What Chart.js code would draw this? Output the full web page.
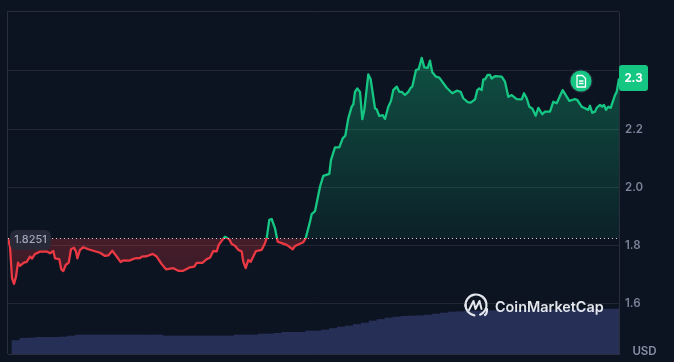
<!DOCTYPE html>
<html><head><meta charset="utf-8">
<style>html,body{margin:0;padding:0;background:#0c1321}#w{position:relative;width:674px;height:362px}</style>
<script src="https://cdn.jsdelivr.net/npm/chart.js@4"></script>
</head><body><div id="w"><canvas id="c" width="674" height="362"></canvas></div>
<script>
const baseline = 1.8251;
const yTicks = [1.6, 1.8, 2.0, 2.2, 2.4];
const lastLabel = '2.3';
const times = [0,2,4,6,8,10,12,14,16,18.7,22,24,27,32,38.7,42,45.3,47,51.3,53.3,55.3,57.7,60.7,63,66,68,69.3,72,75.3,80.3,92,97,100.3,104.3,108.7,112.7,115.3,121.3,127,132,133.7,138.7,144.7,148.7,153.7,158,165.3,170.3,175.3,182,186.3,188.7,194.3,198.7,202,205.3,208.7,210.7,213.7,217,221.3,223.7,227,230.3,233.7,235.3,237.7,240.3,242.7,248,253.7,257,258.7,261.3,263.7,267,269.7,273.7,278.7,284.7,287,295.3,297.7,302,303.7,307,312,314,315.3,321.3,323,327,331.3,334.7,337.3,340.3,343.7,345.3,347,349.3,352,354.3,356.3,360.3,362.7,367,368.7,371.3,374.7,377,380.3,383,385.3,388.7,391.3,393.7,397,400.3,402.7,404.3,408,410.7,413.7,416.3,419.7,422,424.3,428,431.3,438.7,444.3,448.7,452.7,455.3,459.7,462.7,467,469.3,471.3,473.7,475.3,477,479.7,482,483.7,487,493.7,497,500.3,503.7,508.7,513.7,516,518.7,521.3,524.3,527.7,530.3,534.3,537,542,545.3,548.7,554.7,561.3,567,569.3,573.7,580.3,582,584.3,587,588.7,592,594,596,598,600.3,602.7,607,608.7,611];
const prices = [1.825,1.796,1.688,1.668,1.693,1.741,1.730,1.736,1.741,1.744,1.762,1.755,1.771,1.779,1.779,1.773,1.781,1.756,1.753,1.718,1.712,1.733,1.741,1.787,1.792,1.779,1.756,1.785,1.794,1.787,1.775,1.764,1.766,1.782,1.762,1.743,1.749,1.748,1.756,1.757,1.762,1.763,1.771,1.762,1.736,1.718,1.722,1.713,1.713,1.725,1.727,1.740,1.740,1.753,1.758,1.781,1.780,1.802,1.816,1.830,1.821,1.805,1.799,1.785,1.779,1.744,1.722,1.750,1.744,1.781,1.785,1.808,1.825,1.888,1.891,1.859,1.813,1.808,1.802,1.787,1.798,1.811,1.825,1.882,1.908,1.918,2.002,2.025,2.039,2.046,2.094,2.137,2.137,2.168,2.177,2.237,2.277,2.285,2.328,2.340,2.328,2.234,2.266,2.388,2.371,2.271,2.268,2.245,2.248,2.235,2.277,2.297,2.334,2.346,2.328,2.328,2.317,2.328,2.342,2.346,2.403,2.406,2.445,2.412,2.410,2.435,2.395,2.380,2.377,2.342,2.323,2.332,2.328,2.306,2.293,2.291,2.302,2.334,2.340,2.334,2.371,2.371,2.386,2.386,2.374,2.382,2.380,2.363,2.311,2.317,2.303,2.302,2.323,2.306,2.277,2.271,2.246,2.273,2.251,2.260,2.260,2.294,2.289,2.334,2.297,2.303,2.300,2.277,2.266,2.280,2.256,2.260,2.273,2.283,2.277,2.283,2.266,2.277,2.273,2.317,2.328,2.374];
const volumes = [13.5,15.7,16,16.7,16.7,16.7,17,18,19,19,19,19,19,19,19,19,19,19,19,18,18,18,18,18,18,18,18,18,19,19,19,20,20,20.7,21.7,21.7,21.7,23,23,24,25.5,27,28,29.5,31,33,34.5,36,37,37.7,38,38.3,39,40,41,42,42.3,43,43,42.7,43.3,43.5,43.5,43.6,43.7,43.8,44,44,44.2,44.3,44.4,44.5,44.6,44.7,44.8,44.9,45];
const volumeLabels = volumes.map((_, i) => String(i));
const pricePoints = times.map((t, i) => ({x: t, y: prices[i]}));

const GREEN = '#16c784', RED = '#ea3943';

function lineColor(ctx) {
  const c = ctx.chart, a = c.chartArea;
  if (!a) return GREEN;
  const p = c.scales.y.getPixelForValue(baseline);
  const s = (p - a.top) / (a.bottom - a.top);
  const g = c.ctx.createLinearGradient(0, a.top, 0, a.bottom);
  g.addColorStop(0, GREEN); g.addColorStop(s, GREEN);
  g.addColorStop(s, RED); g.addColorStop(1, RED);
  return g;
}
function aboveFill(ctx) {
  const c = ctx.chart, a = c.chartArea;
  if (!a) return 'transparent';
  const g = c.ctx.createLinearGradient(0, c.scales.y.getPixelForValue(2.445), 0, c.scales.y.getPixelForValue(baseline));
  g.addColorStop(0, 'rgba(22,199,132,0.34)');
  g.addColorStop(1, 'rgba(22,199,132,0.08)');
  return g;
}
function belowFill(ctx) {
  const c = ctx.chart, a = c.chartArea;
  if (!a) return 'transparent';
  const g = c.ctx.createLinearGradient(0, c.scales.y.getPixelForValue(baseline), 0, c.scales.y.getPixelForValue(1.668));
  g.addColorStop(0, 'rgba(234,57,67,0.26)');
  g.addColorStop(1, 'rgba(234,57,67,0.20)');
  return g;
}

const overlay = {
  id: 'overlay',
  afterDatasetsDraw(c) {
    const x = c.ctx, a = c.chartArea, ys = c.scales.y;
    const by = Math.round(ys.getPixelForValue(baseline)) + 0.5;
    x.save();
    x.strokeStyle = 'rgba(255,255,255,0.8)'; x.lineWidth = 1; x.setLineDash([1, 3]);
    x.beginPath(); x.moveTo(a.left, by); x.lineTo(a.right, by); x.stroke();
    x.setLineDash([]);
    x.fillStyle = 'rgba(40,43,58,0.95)';
    x.beginPath(); x.roundRect(10, by - 8.5, 41, 20, 6); x.fill();
    x.fillStyle = '#a1a7bb'; x.font = '500 11px Inter'; x.textAlign = 'center'; x.textBaseline = 'middle';
    x.fillText(baseline.toFixed(4), 30.5, by + 1.5);

    // watermark
    x.strokeStyle = '#e3e6ec'; x.lineWidth = 2.2; x.lineCap = 'round'; x.lineJoin = 'round';
    const lx = 476, ly = 305;
    x.beginPath(); x.arc(lx, ly, 10.5, -Math.PI * 1.05, Math.PI * 0.42 - 0.15, false); x.stroke();
    x.beginPath(); x.arc(lx, ly, 10.5, Math.PI * 0.55, Math.PI * 1.0, false); x.stroke();
    x.beginPath(); x.moveTo(lx + 9, ly + 10); x.quadraticCurveTo(lx + 11, ly + 9, lx + 11, ly + 4); x.stroke();
    x.lineWidth = 2;
    x.beginPath(); x.moveTo(lx - 7, ly + 5); x.lineTo(lx - 2.5, ly - 4); x.lineTo(lx - 0.5, ly + 4); x.lineTo(lx + 3.5, ly - 4); x.lineTo(lx + 5.5, ly + 4); x.stroke();
    x.fillStyle = '#e3e6ec'; x.font = '600 14.4px Inter'; x.textAlign = 'left';
    x.fillText('CoinMarketCap', 495, 307.5);

    // note marker
    x.fillStyle = '#2a3040'; x.beginPath(); x.arc(581, 81, 11.5, 0, Math.PI * 2); x.fill();
    x.fillStyle = GREEN; x.beginPath(); x.arc(581, 81, 10.5, 0, Math.PI * 2); x.fill();
    x.strokeStyle = '#fff'; x.lineWidth = 1.3; x.lineCap = 'butt';
    x.beginPath(); x.moveTo(577, 75.5); x.lineTo(582.5, 75.5); x.lineTo(585.5, 78.5); x.lineTo(585.5, 87); x.lineTo(577, 87); x.closePath(); x.stroke();
    x.beginPath(); x.moveTo(579, 81); x.lineTo(583.5, 81); x.moveTo(579, 83.5); x.lineTo(583.5, 83.5); x.stroke();

    // last price tag
    x.fillStyle = GREEN; x.beginPath(); x.roundRect(619, 65, 29, 26, 3); x.fill();
    x.fillStyle = '#fff'; x.font = '700 11.5px Inter'; x.textAlign = 'center';
    x.fillText(lastLabel, 633.5, 78.5);

    x.fillStyle = '#8a90a6'; x.font = '600 11.5px Inter';
    x.fillText('USD', 644.5, 352);
    x.restore();
  }
};

new Chart(document.getElementById('c'), {
  data: {
    labels: volumeLabels,
    datasets: [
      { type: 'line', data: pricePoints, xAxisID: 'x', yAxisID: 'y', borderWidth: 2.3, pointRadius: 0, tension: 0,
        borderColor: lineColor, borderJoinStyle: 'round',
        fill: { target: { value: baseline }, above: aboveFill, below: belowFill }, order: 1 },
      { type: 'bar', data: volumes, xAxisID: 'x2', yAxisID: 'y2', backgroundColor: '#262f56',
        barThickness: 8.2, order: 2 }
    ]
  },
  options: {
    responsive: false, animation: false, events: [],
    layout: { padding: { left: 8, top: 12, bottom: 8, right: 0 } },
    plugins: { legend: { display: false }, tooltip: { enabled: false } },
    scales: {
      x: { type: 'linear', min: 0, max: 611, display: false },
      x2: { type: 'category', display: false, offset: true },
      y: { position: 'right', min: 1.4271, max: 2.6024,
        afterBuildTicks(s) { s.ticks = yTicks.map(v => ({value: v})); },
        afterFit(s) { s.width = 55; s.paddingTop = 0; s.paddingBottom = 0; },
        grid: { color: '#232733', lineWidth: 1, drawTicks: false, drawOnChartArea: true },
        border: { color: '#2a2e3c' },
        ticks: { color: '#7d8399', padding: 6, font: { family: 'Inter', size: 11.5, weight: '600' },
          callback: v => v === 2.4 ? '' : v.toFixed(1) } },
      y2: { position: 'left', min: 0, max: 342, display: false }
    }
  },
  plugins: [{
    id: 'frame',
    beforeDatasetsDraw(c) {
      const x = c.ctx, a = c.chartArea;
      x.save(); x.strokeStyle = '#2a2e3c'; x.lineWidth = 1;
      x.beginPath(); x.moveTo(a.left - 0.5, a.bottom); x.lineTo(a.left - 0.5, a.top - 0.5); x.lineTo(a.right, a.top - 0.5); x.stroke();
      x.beginPath(); x.moveTo(a.left, a.bottom + 0.5); x.lineTo(a.right, a.bottom + 0.5); x.stroke();
      x.restore();
    }
  }, overlay]
});
</script></body></html>
